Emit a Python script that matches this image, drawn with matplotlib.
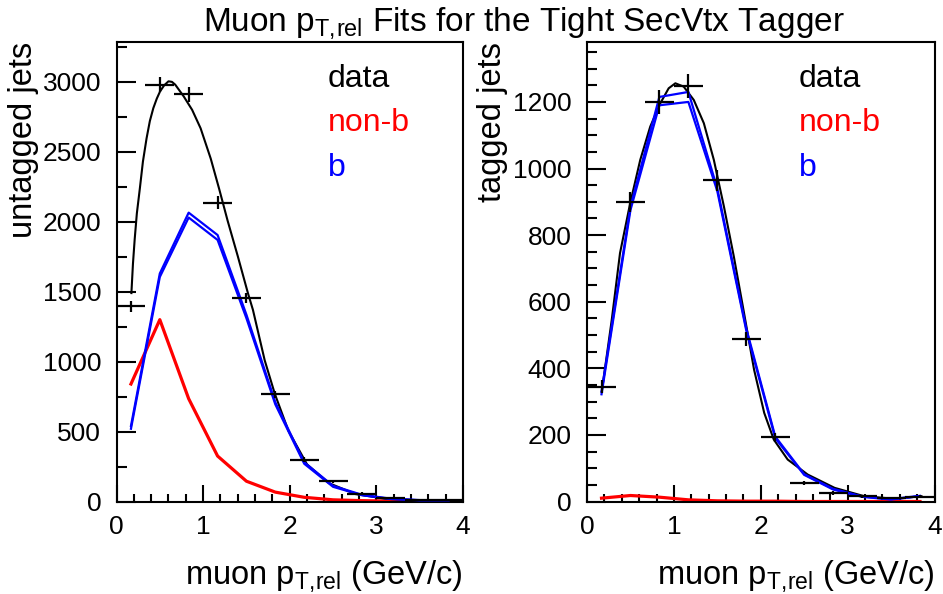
import matplotlib
matplotlib.use('Agg')
import matplotlib.pyplot as plt
from matplotlib.ticker import MultipleLocator

plt.rcParams['font.family'] = ['Liberation Sans', 'DejaVu Sans']
plt.rcParams['mathtext.fontset'] = 'custom'
plt.rcParams['mathtext.rm'] = 'Liberation Sans'
plt.rcParams['mathtext.it'] = 'Liberation Sans:italic'
plt.rcParams['mathtext.bf'] = 'Liberation Sans:bold'

# --- data (12 bins of muon pT,rel, 0..4 GeV/c) ---
pt_centers = [0.167, 0.5, 0.833, 1.167, 1.5, 1.833, 2.167, 2.5, 2.833, 3.167, 3.5, 3.833]
bin_half = 0.167

# untagged jets (left)
untag_data = [1395, 2980, 2910, 2135, 1455, 765, 300, 145, 57, 22, 14, 10]
untag_err = [37, 55, 54, 46, 38, 28, 17, 12, 8, 5, 4, 3]
untag_nonb = [840, 1300, 735, 325, 145, 67, 30, 12, 6, 3, 2, 1]
untag_b_hi = [540, 1630, 2065, 1905, 1335, 710, 280, 112, 48, 20, 10, 10]
untag_b_lo = [520, 1605, 2030, 1870, 1310, 695, 270, 105, 45, 18, 9, 9]
untag_fit_x = [0.172, 0.19, 0.21, 0.235, 0.269, 0.305, 0.347, 0.385, 0.425, 0.465, 0.503,
               0.55, 0.6, 0.64, 0.678, 0.776, 0.873, 0.971, 1.088, 1.185, 1.283, 1.4,
               1.517, 1.575, 1.711, 1.828, 1.985, 2.2, 2.45, 2.76, 3.11, 3.5, 3.83]
untag_fit_y = [1490, 1700, 1875, 2060, 2235, 2430, 2596, 2720, 2812, 2880, 2932,
               2975, 3004, 3000, 2980, 2896, 2800, 2668, 2451, 2235, 2007, 1754,
               1490, 1370, 1009, 769, 505, 265, 132, 53, 19, 8, 5]

# tagged jets (right)
tag_data = [345, 900, 1200, 1248, 965, 488, 193, 56, 26, 16, 12, 15]
tag_err = [19, 30, 35, 35, 31, 22, 14, 7, 5, 4, 3, 4]
tag_nonb = [10, 18, 13, 5, 2, 1, 1, 0, 0, 0, 0, 0]
tag_b_hi = [330, 885, 1215, 1230, 940, 520, 195, 82, 38, 15, 7, 17]
tag_b_lo = [322, 875, 1190, 1200, 932, 514, 190, 80, 36, 14, 6, 16]
tag_fit_x = [0.17, 0.285, 0.38, 0.497, 0.613, 0.728, 0.844, 0.94, 1.017, 1.113, 1.229,
             1.345, 1.46, 1.576, 1.69, 1.807, 1.923, 2.04, 2.15, 2.31, 2.54, 2.85,
             3.19, 3.54, 3.85]
tag_fit_y = [330, 546, 746, 896, 1026, 1126, 1196, 1241, 1256, 1246, 1206,
             1136, 1026, 886, 736, 567, 396, 266, 186, 126, 81, 41,
             16, 8, 16]

W, H = 943, 594
fig = plt.figure(figsize=(W / 100, H / 100), dpi=100)


def px_axes(x0, x1, y0, y1):
    # rectangle given in image pixels (y from top)
    return fig.add_axes([x0 / W, 1 - y1 / H, (x1 - x0) / W, (y1 - y0) / H])


ax1 = px_axes(116.5, 463, 42, 501.5)
ax2 = px_axes(587, 934.5, 42, 501.5)

ptrel = r'$\mathrm{p}_{\mathrm{T,\!rel}}$'
xlab = 'muon ' + ptrel + ' (GeV/c)'


def draw(ax, data, err, nonb, b_hi, b_lo, fx, fy, ymax, ymaj, ymin, ylabel, ylab_x):
    ax.errorbar(pt_centers, data, xerr=bin_half, yerr=err, fmt='none',
                ecolor='black', elinewidth=1.6, capsize=0, zorder=4)
    ax.plot(pt_centers, nonb, color='#ff0000', lw=2.3, zorder=2)
    ax.plot(pt_centers, b_hi, color='#0000ff', lw=1.6, zorder=3)
    ax.plot(pt_centers, b_lo, color='#0000ff', lw=1.6, zorder=3)
    ax.plot(fx, fy, color='black', lw=1.5, zorder=2.5)

    ax.set_xlim(0, 4)
    ax.set_ylim(0, ymax)
    ax.xaxis.set_major_locator(MultipleLocator(1))
    ax.xaxis.set_minor_locator(MultipleLocator(0.2))
    ax.yaxis.set_major_locator(MultipleLocator(ymaj))
    ax.yaxis.set_minor_locator(MultipleLocator(ymin))
    ax.tick_params(which='both', direction='in', top=False, right=False,
                   width=1.5, labelsize=19)
    ax.tick_params(axis='y', which='major', length=13.5, pad=11)
    ax.tick_params(axis='y', which='minor', length=7)
    ax.tick_params(axis='x', which='major', length=12.5, pad=10)
    ax.tick_params(axis='x', which='minor', length=6)
    for s in ax.spines.values():
        s.set_linewidth(1.5)

    ax.set_xlabel(xlab, fontsize=23.5)
    ax.xaxis.set_label_coords(1.0, -0.178)
    ax.xaxis.label.set_ha('right')
    ax.xaxis.label.set_va('baseline')

    ax.set_ylabel(ylabel, fontsize=23.5)
    ax.yaxis.set_label_coords(ylab_x, 1.0)
    ax.yaxis.label.set_rotation_mode('default')
    ax.yaxis.label.set_ha('center')
    ax.yaxis.label.set_va('top')

    ax.text(0.61, 0.902, 'data', color='black', fontsize=23, transform=ax.transAxes)
    ax.text(0.61, 0.806, 'non-b', color='#ff0000', fontsize=23, transform=ax.transAxes)
    ax.text(0.61, 0.708, 'b', color='#0000ff', fontsize=23, transform=ax.transAxes)


draw(ax1, untag_data, untag_err, untag_nonb, untag_b_hi, untag_b_lo,
     untag_fit_x, untag_fit_y, 3285, 500, 250, 'untagged jets', -0.268)
draw(ax2, tag_data, tag_err, tag_nonb, tag_b_hi, tag_b_lo,
     tag_fit_x, tag_fit_y, 1380, 200, 50, 'tagged jets', -0.272)

fig.text(524 / W, 1 - 31 / H, 'Muon ' + ptrel + ' Fits for the Tight SecVtx Tagger',
         ha='center', va='baseline', fontsize=24)

fig.savefig('out.png', dpi=100)
